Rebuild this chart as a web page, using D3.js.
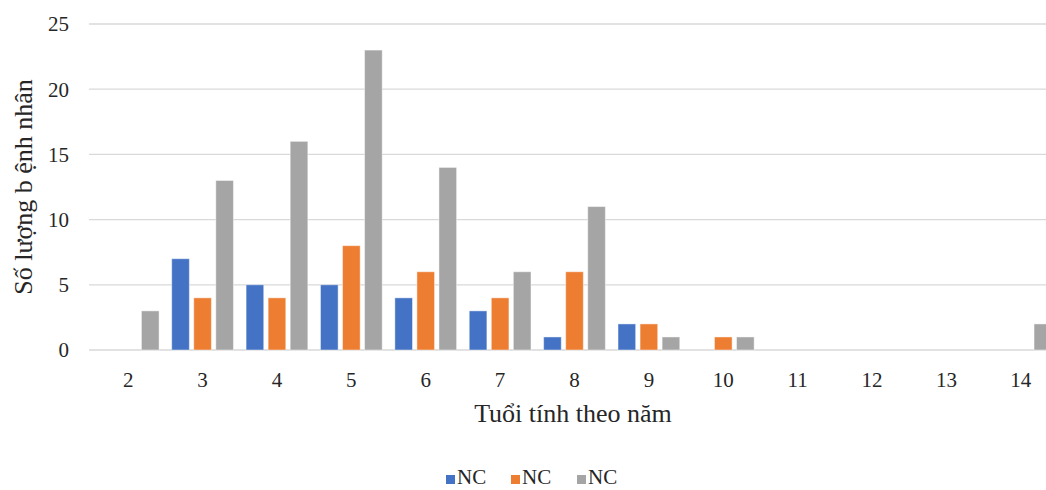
<!DOCTYPE html>
<html><head><meta charset="utf-8">
<script src="https://cdn.jsdelivr.net/npm/d3@7"></script>
<style>body{margin:0;background:#fff;overflow:hidden}svg{display:block}</style>
</head><body>
<svg id="c" width="1046" height="490"></svg>
<script>
const categories = ["2","3","4","5","6","7","8","9","10","11","12","13","14"];
const seriesNames = ["NC","NC","NC"];
const series1 = [0,7,5,5,4,3,1,2,0,0,0,0,0];
const series2 = [0,4,4,8,6,4,6,2,1,0,0,0,0];
const series3 = [3,13,16,23,14,6,11,1,1,0,0,0,2];
const yTicks = [0,5,10,15,20,25];
const colors = ["#4472C4","#ED7D31","#A5A5A5"];
const xTitle = "Tuổi tính theo năm";
const yTitle = "Số lượng b ệnh nhân";

const allSeries = [series1, series2, series3];
const svg = d3.select("#c");
const font = "Liberation Serif, Times New Roman, serif";
const plotTop = 24, plotBottom = 350, plotLeft = 89, plotRight = 1058;

const y = d3.scaleLinear().domain([0,25]).range([plotBottom, plotTop]);
const x0 = d3.scaleBand().domain(categories).range([91, 1058]).paddingInner(0.17).paddingOuter(0.085);
const x1 = d3.scaleBand().domain([0,1,2]).range([0, x0.bandwidth()]).paddingInner(0.2);

// gridlines
svg.append("g").selectAll("line").data(yTicks).join("line")
  .attr("x1", plotLeft).attr("x2", plotRight)
  .attr("y1", d => y(d)).attr("y2", d => y(d))
  .attr("stroke", "#D9D9D9").attr("stroke-width", 1.3);

// y tick labels
svg.append("g").selectAll("text").data(yTicks).join("text")
  .attr("x", 69).attr("y", d => y(d)).attr("dy", "0.35em")
  .attr("text-anchor", "end").attr("font-family", font).attr("font-size", 21)
  .attr("fill", "#262626").text(d => d);

// bars
const groups = svg.append("g").selectAll("g").data(categories).join("g")
  .attr("transform", d => `translate(${x0(d)},0)`);
groups.selectAll("rect").data((d,i) => allSeries.map((s,k) => ({k, v: s[i]})).filter(o => o.v > 0)).join("rect")
  .attr("x", d => x1(d.k)).attr("width", x1.bandwidth())
  .attr("y", d => y(d.v)).attr("height", d => y(0) - y(d.v))
  .attr("fill", d => colors[d.k])
  .attr("stroke", "rgba(255,255,255,0.45)").attr("stroke-width", 1);

// x tick labels
svg.append("g").selectAll("text").data(categories).join("text")
  .attr("x", d => x0(d) + x0.bandwidth()/2).attr("y", 387)
  .attr("text-anchor", "middle").attr("font-family", font).attr("font-size", 21)
  .attr("fill", "#262626").text(d => d);

// axis titles
svg.append("text").attr("x", 573).attr("y", 422).attr("text-anchor", "middle")
  .attr("font-family", font).attr("font-size", 26).attr("fill", "#262626").text(xTitle);
svg.append("text").attr("transform", "translate(32,187) rotate(-90)").attr("text-anchor", "middle")
  .attr("font-family", font).attr("font-size", 26).attr("fill", "#262626").text(yTitle);

// legend
const legX = [446, 511, 577];
const leg = svg.append("g").selectAll("g").data(seriesNames).join("g")
  .attr("transform", (d,i) => `translate(${legX[i]},0)`);
leg.append("rect").attr("x", 0).attr("y", 475).attr("width", 9).attr("height", 9)
  .attr("fill", (d,i) => colors[i]);
leg.append("text").attr("x", 11).attr("y", 484).attr("font-family", font)
  .attr("font-size", 21).attr("fill", "#262626").text(d => d);
</script>
</body></html>
